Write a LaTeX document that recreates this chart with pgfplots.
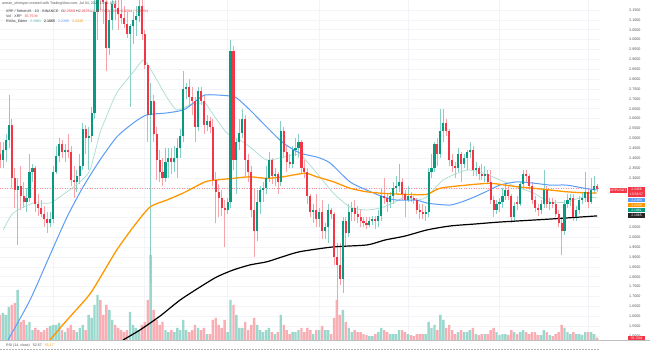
\documentclass[border=0pt]{standalone}
\usepackage{pgfplots}
\pgfplotsset{compat=1.18}
\usepackage{pgfplotstable}
\usepackage{fontspec}
\setmainfont{Liberation Sans}
\definecolor{tvgreen}{HTML}{089981}
\definecolor{tvred}{HTML}{F23645}
\definecolor{upwick}{HTML}{86CFC2}
\definecolor{dnwick}{HTML}{F7A3AA}
\definecolor{volup}{HTML}{9AD7CC}
\definecolor{voldn}{HTML}{F9AEB4}
\definecolor{emateal}{HTML}{A8DDD0}
\definecolor{emablue}{HTML}{5B9CF6}
\definecolor{emaorange}{HTML}{FF9800}
\definecolor{gridc}{HTML}{F2F4F8}
\definecolor{txtgray}{HTML}{555555}

\pgfplotstableread{
d o h l c v
-17 2.39 2.48 2.35 2.44 405
-16 2.44 2.52 2.38 2.49 375
-15 2.49 2.72 2.45 2.57 495
-12 2.24 2.30 1.96 2.26 750
-9 2.18 2.25 2.13 2.20 225
-8 2.20 2.42 2.18 2.33 270
-7 2.33 2.37 2.28 2.35 150
-1 2.07 2.13 2.05 2.09 210
0 2.09 2.36 2.07 2.33 225
1 2.33 2.46 2.32 2.41 225
2 2.41 2.50 2.38 2.47 255
4 2.43 2.47 2.38 2.44 120
8 2.28 2.34 2.23 2.31 120
9 2.31 2.42 2.27 2.36 180
10 2.36 2.58 2.34 2.55 225
12 2.50 2.56 2.34 2.51 375
13 2.51 2.66 2.48 2.63 330
14 2.63 3.22 2.60 3.14 525
15 3.14 3.40 3.00 3.30 675
19 2.96 3.15 2.92 3.10 450
20 3.10 3.25 3.05 3.18 300
26 3.03 3.08 2.66 3.07 420
27 3.07 3.14 2.98 3.10 225
28 3.10 3.17 3.02 3.12 180
29 3.12 3.24 3.09 3.17 150
33 2.62 2.78 1.77 2.69 1275
38 2.30 2.45 2.28 2.38 150
39 2.38 2.45 2.30 2.40 120
41 2.38 2.46 2.33 2.40 120
42 2.40 2.50 2.30 2.45 180
43 2.45 2.55 2.40 2.51 150
44 2.51 2.84 2.48 2.75 300
45 2.75 2.78 2.70 2.76 150
49 2.56 2.76 2.54 2.74 180
52 2.57 2.62 2.54 2.59 90
59 2.14 2.20 2.12 2.18 120
60 2.18 3.00 2.15 2.94 600
62 2.39 2.50 2.22 2.48 375
63 2.48 2.60 2.44 2.53 180
64 2.53 2.65 2.50 2.60 180
69 2.03 2.24 1.98 2.18 225
70 2.18 2.26 2.12 2.24 150
71 2.24 2.28 2.18 2.25 120
72 2.25 2.36 2.22 2.30 150
73 2.30 2.43 2.28 2.39 180
75 2.31 2.35 2.26 2.32 90
77 2.28 2.59 2.26 2.54 375
81 2.37 2.46 2.35 2.44 120
82 2.44 2.50 2.41 2.45 120
83 2.45 2.52 2.40 2.48 150
88 2.13 2.17 2.07 2.14 90
90 2.09 2.15 2.05 2.13 150
92 2.03 2.07 1.99 2.05 150
93 2.05 2.17 1.97 2.14 150
98 1.79 2.10 1.72 2.08 450
100 2.02 2.17 2.00 2.13 180
101 2.13 2.18 2.08 2.15 120
107 2.06 2.10 2.05 2.08 60
108 2.08 2.11 2.06 2.09 60
110 2.08 2.14 2.05 2.11 120
111 2.11 2.25 2.08 2.21 180
114 2.18 2.23 2.15 2.21 90
115 2.21 2.28 2.17 2.25 90
116 2.25 2.31 2.22 2.26 90
117 2.26 2.37 2.23 2.28 150
120 2.19 2.26 2.18 2.21 90
126 2.12 2.16 2.08 2.13 90
127 2.13 2.35 2.10 2.33 270
128 2.33 2.42 2.30 2.35 180
129 2.35 2.48 2.33 2.47 225
131 2.42 2.65 2.40 2.54 375
132 2.54 2.65 2.48 2.58 300
137 2.35 2.45 2.33 2.42 120
139 2.37 2.42 2.35 2.40 120
140 2.40 2.44 2.34 2.43 120
141 2.43 2.48 2.40 2.44 150
143 2.34 2.38 2.31 2.35 90
146 2.31 2.36 2.28 2.32 90
150 2.14 2.19 2.12 2.17 120
151 2.17 2.20 2.13 2.18 75
152 2.18 2.25 2.15 2.21 90
153 2.21 2.27 2.19 2.24 90
156 2.10 2.18 2.08 2.16 120
158 2.17 2.28 2.16 2.27 120
159 2.27 2.34 2.25 2.32 150
165 2.14 2.19 2.12 2.17 75
166 2.17 2.34 2.15 2.24 150
168 2.17 2.20 2.14 2.18 75
173 2.03 2.19 2.01 2.17 180
174 2.17 2.22 2.15 2.19 120
175 2.19 2.22 2.16 2.20 90
177 2.10 2.16 2.08 2.14 90
178 2.14 2.21 2.12 2.19 90
179 2.19 2.23 2.17 2.20 75
180 2.20 2.33 2.18 2.23 120
182 2.18 2.30 2.17 2.24 120
183 2.24 2.31 2.22 2.26 90
}\up

\pgfplotstableread{
d o h l c v
-18 2.42 2.48 2.35 2.39 375
-14 2.57 2.60 2.25 2.30 525
-13 2.30 2.35 2.15 2.24 555
-11 2.26 2.36 2.14 2.21 270
-10 2.21 2.28 2.15 2.18 300
-6 2.35 2.36 2.13 2.17 180
-5 2.17 2.22 2.11 2.15 150
-4 2.15 2.19 2.10 2.12 120
-3 2.12 2.16 2.05 2.09 150
-2 2.09 2.13 2.02 2.07 180
3 2.47 2.49 2.40 2.43 150
5 2.44 2.52 2.40 2.43 180
6 2.43 2.46 2.26 2.29 225
7 2.29 2.36 2.20 2.28 150
11 2.55 2.57 2.42 2.50 150
16 3.30 3.38 3.15 3.25 600
17 3.25 3.30 3.08 3.19 375
18 3.19 3.25 2.84 2.96 525
21 3.18 3.25 3.10 3.16 225
22 3.16 3.20 3.05 3.13 180
23 3.13 3.20 3.08 3.11 150
24 3.11 3.17 3.06 3.08 120
25 3.08 3.14 3.01 3.03 150
30 3.17 3.20 3.00 3.03 225
31 3.03 3.05 2.85 2.87 270
32 2.87 2.88 2.48 2.62 600
34 2.69 2.72 2.48 2.52 450
35 2.52 2.56 2.29 2.39 300
36 2.39 2.44 2.28 2.33 225
37 2.33 2.40 2.26 2.30 270
40 2.40 2.45 2.32 2.38 150
46 2.76 2.80 2.66 2.71 120
47 2.71 2.76 2.62 2.69 150
48 2.69 2.71 2.48 2.56 225
50 2.74 2.76 2.67 2.69 150
51 2.69 2.72 2.52 2.57 180
53 2.59 2.61 2.53 2.56 90
54 2.56 2.60 2.26 2.29 300
55 2.29 2.33 2.07 2.23 330
56 2.23 2.27 2.10 2.20 225
57 2.20 2.24 2.11 2.15 180
58 2.15 2.19 1.95 2.14 300
61 2.94 2.97 2.34 2.39 525
65 2.60 2.62 2.31 2.39 270
66 2.39 2.42 2.28 2.33 150
67 2.33 2.36 2.10 2.14 225
68 2.14 2.25 1.90 2.03 330
74 2.39 2.40 2.27 2.31 120
76 2.32 2.33 2.22 2.28 120
78 2.54 2.56 2.40 2.43 225
79 2.43 2.46 2.33 2.38 150
80 2.38 2.42 2.35 2.37 90
84 2.48 2.49 2.32 2.35 180
85 2.35 2.39 2.30 2.33 120
86 2.33 2.35 2.17 2.21 180
87 2.21 2.22 2.10 2.13 150
89 2.14 2.22 2.05 2.09 150
91 2.13 2.19 1.99 2.03 210
94 2.14 2.15 2.09 2.12 90
95 2.12 2.13 1.86 1.90 330
96 1.90 1.97 1.63 1.86 600
97 1.86 1.97 1.76 1.79 375
99 2.08 2.10 1.95 2.02 270
102 2.15 2.19 2.08 2.12 150
103 2.12 2.16 2.07 2.10 120
104 2.10 2.14 2.05 2.08 120
105 2.08 2.10 2.05 2.07 90
106 2.07 2.10 2.04 2.06 75
109 2.09 2.11 2.04 2.08 90
112 2.21 2.30 2.17 2.20 150
113 2.20 2.22 2.13 2.18 120
118 2.28 2.30 2.19 2.22 150
119 2.22 2.24 2.10 2.19 120
121 2.21 2.23 2.18 2.20 75
122 2.20 2.21 2.17 2.19 60
123 2.19 2.20 2.12 2.14 90
124 2.14 2.17 2.09 2.13 90
125 2.13 2.17 2.09 2.12 90
130 2.47 2.50 2.36 2.42 150
133 2.58 2.60 2.51 2.54 180
134 2.54 2.55 2.36 2.39 225
135 2.39 2.42 2.33 2.36 150
136 2.36 2.38 2.30 2.35 90
138 2.42 2.43 2.28 2.37 150
142 2.44 2.46 2.31 2.34 180
144 2.35 2.36 2.29 2.32 75
145 2.32 2.37 2.29 2.31 90
147 2.32 2.34 2.27 2.28 90
148 2.28 2.34 2.17 2.19 150
149 2.19 2.21 2.10 2.14 180
154 2.24 2.26 2.19 2.21 75
155 2.21 2.22 2.07 2.10 150
157 2.18 2.21 2.14 2.17 90
160 2.32 2.34 2.28 2.31 120
161 2.31 2.32 2.24 2.26 90
162 2.26 2.28 2.17 2.19 120
163 2.19 2.21 2.13 2.15 120
164 2.15 2.17 2.11 2.14 75
167 2.24 2.26 2.15 2.17 120
169 2.18 2.20 2.15 2.17 60
170 2.17 2.19 2.10 2.12 90
171 2.12 2.14 2.05 2.07 120
172 2.07 2.10 1.91 2.03 225
176 2.20 2.22 2.08 2.10 120
181 2.23 2.25 2.15 2.18 120
184 2.2569 2.2678 2.2277 2.2456 36
}\dn

\pgfplotsset{
  paneaxis/.style={at={(0bp,12bp)}, anchor=south west, scale only axis,
    width=600bp, height=340bp, xmin=-17.98, xmax=185.0},
  candle/.style 2 args={draw=none, mark=none, forget plot,
    error bars/.cd, y dir=plus, y explicit, error mark=none,
    error bar style={line width=#1, draw=#2, solid}},
}

\begin{document}
\begin{tikzpicture}
\useasboundingbox (0bp,0bp) rectangle (650bp,352bp);
\fill[white] (0bp,0bp) rectangle (650bp,352bp);

% grid and price scale
\begin{axis}[paneaxis, ymin=1.48, ymax=3.2006,
  axis line style={draw=none}, major tick length=0pt,
  xtick={0,31,59,90,120,151,181}, xticklabels={},
  ytick={1.50,1.55,1.60,1.65,1.70,1.75,1.80,1.85,1.90,1.95,2.00,2.05,2.10,2.15,2.20,2.25,2.30,2.35,2.40,2.45,2.50,2.55,2.60,2.65,2.70,2.75,2.80,2.85,2.90,2.95,3.00,3.05,3.10,3.15},
  yticklabels={1.5000,1.5500,1.6000,1.6500,1.7000,1.7500,1.8000,1.8500,1.9000,1.9500,2.0000,2.0500,,,,,2.3000,2.3500,2.4000,2.4500,2.5000,2.5500,2.6000,2.6500,2.7000,2.7500,2.8000,2.8500,2.9000,2.9500,3.0000,3.0500,3.1000,3.1500},
  yticklabel pos=right,
  yticklabel style={font=\fontsize{3.7}{4}\selectfont, text=txtgray, anchor=west, inner sep=0pt, xshift=29bp},
  grid=major, grid style={draw=gridc, line width=0.6bp}]
\end{axis}

% volume
\begin{axis}[paneaxis, ymin=0, ymax=5100, hide axis, ybar, bar width=2.4bp]
\addplot[fill=volup, draw=none, bar shift=0pt] table[x=d, y=v] {\up};
\addplot[fill=voldn, draw=none, bar shift=0pt] table[x=d, y=v] {\dn};
\end{axis}

% price
\begin{axis}[paneaxis, ymin=1.48, ymax=3.2006, hide axis, clip=true]
\addplot[tvred!55, dotted, line width=0.5bp, forget plot] coordinates {(-18,2.2456) (185,2.2456)};
% wicks
\addplot[candle={0.6bp}{upwick}] table[x=d, y=l, y error expr=\thisrow{h}-\thisrow{l}] {\up};
\addplot[candle={0.6bp}{dnwick}] table[x=d, y=l, y error expr=\thisrow{h}-\thisrow{l}] {\dn};
% EMA 20
\addplot[emateal, line width=0.7bp, smooth, tension=0.4] coordinates {
(-16.86,2.037) (-13.48,2.123) (-6.72,2.173) (-1.07,2.173) (4.58,2.229) (9.08,2.280) (12.47,2.340) (15.85,2.528) (17.54,2.593) (21.50,2.730) (27.11,2.836) (30.50,2.897) (32.76,2.856) (38.41,2.710) (41.80,2.644) (46.30,2.669) (51.37,2.679) (53.06,2.644) (58.71,2.528) (63.21,2.492) (66.59,2.457) (72.24,2.391) (77.86,2.406) (83.51,2.416) (89.16,2.325) (94.77,2.224) (100.42,2.153) (106.07,2.138) (110.57,2.148) (115.07,2.173) (119.03,2.204) (122.99,2.188) (126.37,2.204) (131.99,2.290) (139.90,2.340) (145.52,2.325) (151.17,2.290) (156.82,2.254) (162.43,2.224) (168.08,2.178) (173.73,2.178) (179.35,2.204) (183.88,2.198)};
% EMA 50
\addplot[emablue, line width=1bp, smooth, tension=0.4] coordinates {
(-15.27,1.480) (-7.83,1.682) (-1.07,1.910) (4.69,2.102) (10.10,2.254) (15.85,2.391) (21.50,2.507) (27.11,2.578) (31.65,2.619) (38.41,2.629) (44.03,2.644) (47.41,2.679) (51.37,2.720) (59.83,2.715) (62.09,2.705) (66.59,2.644) (72.24,2.558) (77.86,2.477) (83.51,2.426) (89.16,2.406) (93.66,2.376) (100.42,2.280) (106.07,2.239) (111.69,2.204) (116.22,2.188) (122.99,2.188) (126.37,2.173) (134.25,2.163) (139.90,2.188) (145.52,2.224) (151.17,2.264) (156.82,2.280) (162.43,2.274) (168.08,2.264) (173.73,2.264) (179.35,2.249) (183.88,2.239)};
% EMA 100
\addplot[emaorange, line width=1.3bp, smooth, tension=0.4] coordinates {
(-1.07,1.480) (4.69,1.581) (10.77,1.682) (13.14,1.728) (15.85,1.794) (21.50,1.935) (27.11,2.052) (32.76,2.153) (38.41,2.188) (44.03,2.224) (51.37,2.280) (55.33,2.290) (60.94,2.298) (66.59,2.306) (72.24,2.298) (77.86,2.306) (85.20,2.324) (89.16,2.306) (94.77,2.281) (100.42,2.248) (106.07,2.230) (111.69,2.222) (119.03,2.217) (126.37,2.217) (130.87,2.248) (139.90,2.264) (147.79,2.273) (152.86,2.264) (156.82,2.256) (162.43,2.248) (168.08,2.239) (173.73,2.230) (179.35,2.225) (183.88,2.224)};
% EMA 200
\addplot[black, line width=1.2bp, smooth, tension=0.4] coordinates {
(23.63,1.480) (29.40,1.531) (36.15,1.601) (42.92,1.682) (49.68,1.748) (55.33,1.799) (60.84,1.834) (66.59,1.860) (72.35,1.876) (77.76,1.902) (83.51,1.927) (94.67,1.951) (106.17,1.961) (112.26,1.986) (119.03,2.006) (126.47,2.037) (134.25,2.057) (142.70,2.067) (151.17,2.077) (168.08,2.092) (184.0,2.108)};
% bodies
\addplot[candle={2.1bp}{tvgreen}] table[x=d, y=o, y error expr={max(\thisrow{c}-\thisrow{o},0.006)}] {\up};
\addplot[candle={2.1bp}{tvred}] table[x=d, y=c, y error expr={max(\thisrow{o}-\thisrow{c},0.006)}] {\dn};
\end{axis}

% legend text
\begin{scope}[every node/.style={anchor=west, inner sep=0pt, font=\fontsize{3.6}{4}\selectfont}]
\node[text=txtgray] at (2bp,348.7bp) {arman\_shirinyan created with TradingView.com, Jul 04, 2025 13:01 UTC};
\node[text=black!80] at (6bp,340.3bp) {XRP / TetherUS · 1D · BINANCE\hspace{3bp}O\textcolor{tvred}{2.2569} H\textcolor{tvred}{2.2678} L\textcolor{tvred}{2.2277} C\textcolor{tvred}{2.2456 −0.0204 (−0.90\%)}};
\node[text=black!80] at (6bp,335.3bp) {Vol · XRP\hspace{3bp}\textcolor{tvred}{35.75 M}};
\node[text=black!80] at (6bp,330.3bp) {EMAs\_Editor\hspace{3bp}\textcolor{tvgreen!70}{2.1981}\hspace{3bp}\textcolor{black}{2.1065}\hspace{3bp}\textcolor{emablue}{2.2390}\hspace{3bp}\textcolor{emaorange}{2.2240}};
\end{scope}

% right price labels
\begin{scope}[every node/.style={inner sep=0pt, font=\fontsize{3.4}{4}\selectfont, text=white}]
\fill[tvred] (610bp,159.3bp) rectangle (626.7bp,163.7bp);
\node at (618.3bp,161.5bp) {XRPUSDT};
\fill[tvred] (628bp,155.3bp) rectangle (645bp,164.7bp);
\node at (636.5bp,162.2bp) {2.2456};
\node at (636.5bp,157.6bp) {10:58:57};
\fill[emablue] (628bp,149.7bp) rectangle (645bp,153.7bp);
\node at (636.5bp,151.7bp) {2.2390};
\fill[emaorange] (628bp,145bp) rectangle (645bp,149bp);
\node at (636.5bp,147bp) {2.2240};
\fill[tvgreen] (628bp,140bp) rectangle (645bp,144bp);
\node at (636.5bp,142bp) {2.1981};
\fill[black!85] (628bp,134bp) rectangle (645bp,139bp);
\node at (636.5bp,136.5bp) {2.1065};
\fill[tvred] (628bp,11bp) rectangle (645bp,16bp);
\node at (636.5bp,13.5bp) {35.75M};
\end{scope}

% RSI pane
\draw[black!25, line width=0.5bp] (0bp,11.3bp) -- (650bp,11.3bp);
\draw[black!30, line width=0.4bp, dash pattern=on 1.5bp off 1.5bp] (0bp,3bp) -- (600bp,3bp);
\node[anchor=west, inner sep=0pt, font=\fontsize{3.6}{4}\selectfont, text=txtgray] at (6bp,6.5bp) {RSI (14, close)\hspace{3bp}\textcolor{black!70}{52.57}\hspace{3bp}\textcolor{emaorange}{55.17}};
\end{tikzpicture}
\end{document}
